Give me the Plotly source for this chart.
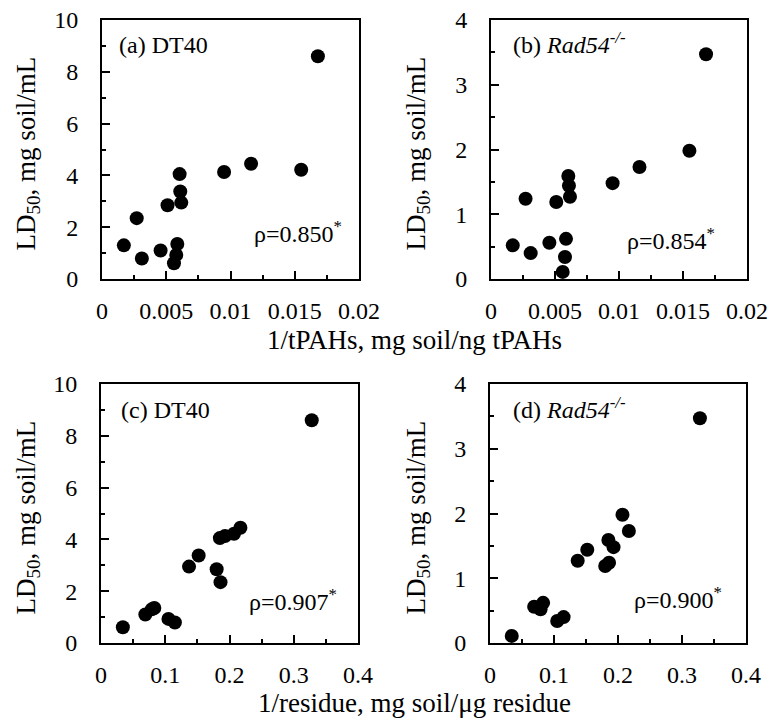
import plotly.graph_objects as go

# 15 soil samples (same order in every panel)
inv_tpah = [0.0168, 0.0155, 0.0116, 0.0095, 0.00604, 0.00609, 0.00617, 0.0051,
            0.0027, 0.0017, 0.0031, 0.00456, 0.00586, 0.00578, 0.0056]
inv_residue = [0.328, 0.207, 0.217, 0.193, 0.185, 0.152, 0.137, 0.180,
               0.186, 0.079, 0.115, 0.069, 0.083, 0.105, 0.034]
ld50_dt40 = [8.6, 4.22, 4.45, 4.13, 4.05, 3.38, 2.95, 2.85,
             2.35, 1.30, 0.79, 1.10, 1.35, 0.93, 0.61]
ld50_rad54 = [3.47, 1.98, 1.73, 1.48, 1.59, 1.44, 1.27, 1.19,
              1.24, 0.52, 0.40, 0.56, 0.62, 0.34, 0.11]

panel_labels = ["(a) DT40", "(b) <i>Rad54</i><sup><i>-/-</i></sup>",
                "(c) DT40", "(d) <i>Rad54</i><sup><i>-/-</i></sup>"]
rho_labels = ["ρ=0.850<sup>*</sup>", "ρ=0.854<sup>*</sup>",
              "ρ=0.907<sup>*</sup>", "ρ=0.900<sup>*</sup>"]
y_title = "LD<sub>50</sub>, mg soil/mL"
x_title_top = "1/tPAHs, mg soil/ng tPAHs"
x_title_bottom = "1/residue, mg soil/μg residue"

W, H = 771, 721
FONT = "Liberation Serif"

# pixel boxes of the four plot areas (left, right, top, bottom)
boxes = [(102, 359, 20, 279), (491, 747, 20, 279),
         (101, 358, 384, 643), (490, 746, 384, 643)]

def dom_x(b):
    return [b[0] / W, b[1] / W]

def dom_y(b):
    return [1 - b[3] / H, 1 - b[2] / H]

fig = go.Figure()
series = [(inv_tpah, ld50_dt40), (inv_tpah, ld50_rad54),
          (inv_residue, ld50_dt40), (inv_residue, ld50_rad54)]
for i, (xs, ys) in enumerate(series):
    sfx = "" if i == 0 else str(i + 1)
    fig.add_trace(go.Scatter(x=xs, y=ys, mode="markers",
                             marker=dict(color="black", size=14),
                             xaxis="x" + sfx, yaxis="y" + sfx,
                             showlegend=False, hoverinfo="x+y"))

xr = [[0, 0.02], [0, 0.02], [0, 0.4], [0, 0.4]]
xd = [0.005, 0.005, 0.1, 0.1]
yr = [[0, 10], [0, 4], [0, 10], [0, 4]]
yd = [2, 1, 2, 1]

layout = dict(template="none", width=W, height=H,
              margin=dict(l=0, r=0, t=0, b=0, autoexpand=False),
              paper_bgcolor="white", plot_bgcolor="white", showlegend=False,
              font=dict(family=FONT, color="black", size=24))
annotations = []
for i, b in enumerate(boxes):
    sfx = "" if i == 0 else str(i + 1)
    common = dict(showline=True, linecolor="black", linewidth=2, mirror=True,
                  ticks="inside", ticklen=8, tickwidth=1.5, tickcolor="black",
                  showgrid=False, zeroline=False, automargin=False,
                  tickfont=dict(family=FONT, size=24, color="black"))
    layout["xaxis" + sfx] = dict(common, domain=dom_x(b), range=xr[i],
                                 dtick=xd[i], tick0=0,
                                 anchor="y" + sfx, ticklabelstandoff=9,
                                 minor=dict(ticks="inside", ticklen=4,
                                            dtick=xd[i] / 2, tickcolor="black",
                                            tickwidth=1.5))
    layout["yaxis" + sfx] = dict(common, domain=dom_y(b), range=yr[i],
                                 dtick=yd[i], tick0=0,
                                 anchor="x" + sfx, ticklabelstandoff=17,
                                 minor=dict(ticks="inside", ticklen=4,
                                            dtick=yd[i] / 2, tickcolor="black",
                                            tickwidth=1.5))

lab_pos = [(0.058, 0.903), (0.08, 0.91), (0.07, 0.90), (0.082, 0.907)]
rho_pos = [(0.584, 0.18), (0.525, 0.155), (0.568, 0.166), (0.553, 0.174)]
for i in range(4):
    sfx = "" if i == 0 else str(i + 1)
    annotations.append(dict(text=panel_labels[i], xref="x" + sfx + " domain",
                            yref="y" + sfx + " domain", x=lab_pos[i][0],
                            y=lab_pos[i][1], xanchor="left", yanchor="middle",
                            showarrow=False, font=dict(size=24)))
    annotations.append(dict(text=rho_labels[i], xref="x" + sfx + " domain",
                            yref="y" + sfx + " domain", x=rho_pos[i][0],
                            y=rho_pos[i][1], xanchor="left", yanchor="middle",
                            showarrow=False, font=dict(size=24)))

# y titles
for (cx, b) in [(27, boxes[0]), (417, boxes[1]), (27, boxes[2]), (417, boxes[3])]:
    cy = (b[2] + b[3]) / 2 + 4
    annotations.append(dict(text=y_title, xref="paper", yref="paper",
                            x=cx / W, y=1 - cy / H, textangle=-90,
                            xanchor="center", yanchor="middle",
                            showarrow=False, font=dict(size=27)))
# x titles
annotations.append(dict(text=x_title_top, xref="paper", yref="paper",
                        x=414 / W, y=1 - 340 / H, xanchor="center",
                        yanchor="middle", showarrow=False, font=dict(size=27)))
annotations.append(dict(text=x_title_bottom, xref="paper", yref="paper",
                        x=414 / W, y=1 - 703 / H, xanchor="center",
                        yanchor="middle", showarrow=False, font=dict(size=27)))
layout["annotations"] = annotations
fig.update_layout(**layout)
fig.write_html("out.html", config={"displayModeBar": False},
               post_script="document.body.style.margin='0px';"
                           "document.body.style.overflow='hidden';")
